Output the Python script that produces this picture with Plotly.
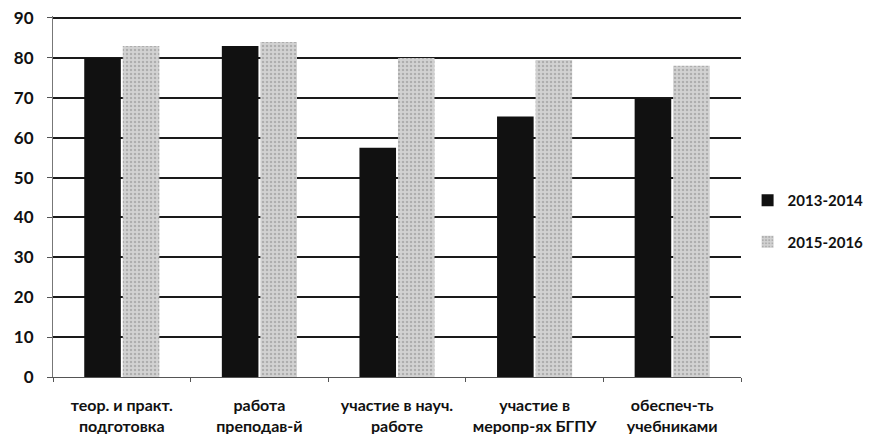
import plotly.graph_objects as go

categories = ["теор. и практ.<br>подготовка", "работа<br>преподав-й", "участие в науч.<br>работе",
              "участие в<br>меропр-ях БГПУ", "обеспеч-ть<br>учебниками"]
series_names = ["2013-2014", "2015-2016"]
values_2013 = [80, 83, 57.5, 65.3, 69.8]
values_2015 = [83, 84, 80, 79.5, 78]
y_ticks = [0, 10, 20, 30, 40, 50, 60, 70, 80, 90]

FAM = "Lato, Open Sans, Liberation Sans, sans-serif"

fig = go.Figure()
fig.add_trace(go.Bar(
    x=categories, y=values_2013, name=series_names[0],
    marker=dict(color="#111111", line=dict(width=0)),
    legendgroup="a",
))
fig.add_trace(go.Bar(
    x=categories, y=values_2015, name=series_names[1],
    marker=dict(color="#c4c4c4", line=dict(width=0),
                pattern=dict(shape=".", fgcolor="#8a8a8a", bgcolor="#d2d2d2", size=4, solidity=0.3)),
    legendgroup="b",
))

# page body has an 8px default margin, so the figure is sized/offset accordingly
fig.update_layout(
    width=863, height=426,
    margin=dict(l=45, r=130, t=8, b=57),
    paper_bgcolor="white", plot_bgcolor="white",
    barmode="group", bargap=0.44, bargroupgap=0.05,
    font=dict(family=FAM, size=15, color="#111111", weight="bold"),
    showlegend=True,
    legend=dict(xref="container", yref="container", x=0.857, xanchor="left",
                y=0.5, yanchor="middle",
                tracegroupgap=19, borderwidth=0,
                font=dict(family=FAM, size=15, color="#111111", weight="bold"),
                itemwidth=30),
    xaxis=dict(showgrid=False, showline=True, linecolor="#555555", linewidth=1,
               ticks="outside", ticklen=4, tickcolor="#555555", tickson="boundaries",
               ticklabelstandoff=14, automargin=False, tickangle=0,
               tickfont=dict(family=FAM, size=16, color="#111111", weight="bold")),
    yaxis=dict(range=[0, 90.5], tickvals=y_ticks, showgrid=True, gridcolor="#1a1a1a", gridwidth=2,
               zeroline=False, showline=True, linecolor="#777777", linewidth=1,
               ticks="outside", ticklen=5, tickcolor="#555555",
               ticklabelstandoff=10, automargin=False, ticklabeloverflow="allow",
               tickfont=dict(family=FAM, size=17, color="#111111", weight="bold")),
)

fig.write_html("out.html")
